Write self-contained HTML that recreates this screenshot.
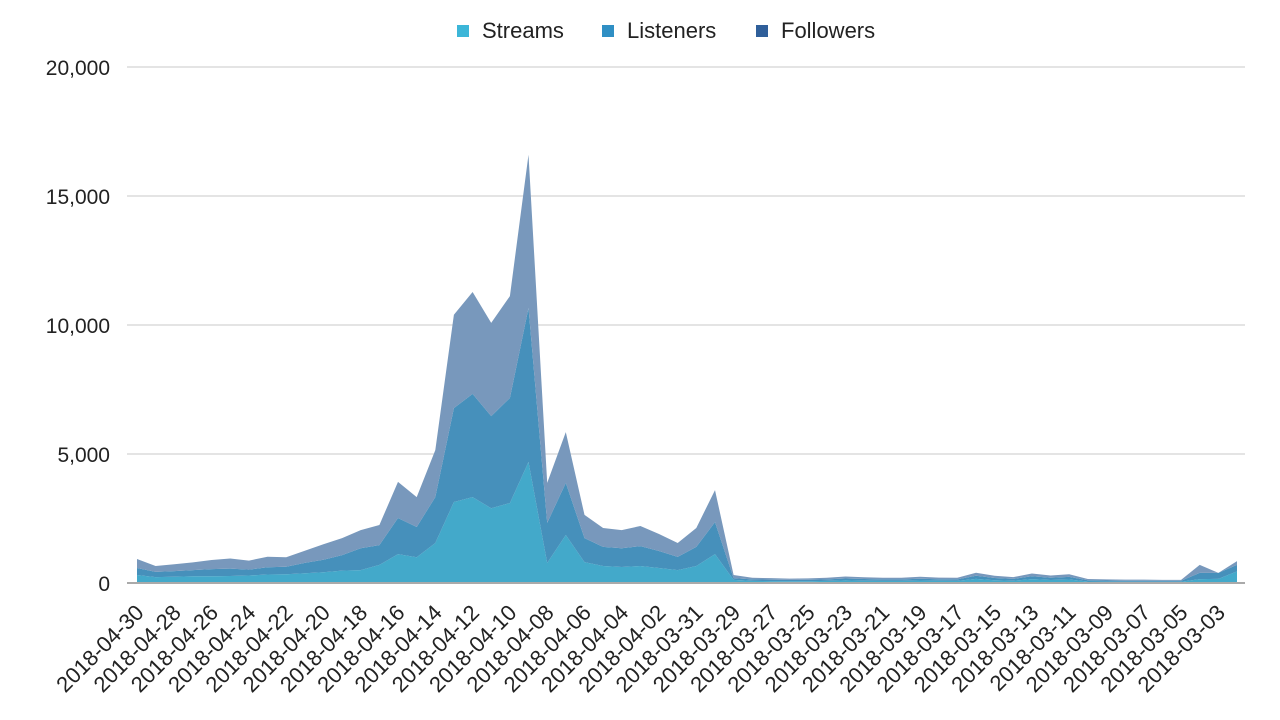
<!DOCTYPE html>
<html><head><meta charset="utf-8">
<style>
html,body{margin:0;padding:0;background:#fff;}
svg{display:block;font-family:"Liberation Sans",sans-serif;}
</style></head>
<body>
<svg id="chart" width="1280" height="720" viewBox="0 0 1280 720" xmlns="http://www.w3.org/2000/svg">
  <g id="legend">
    <g>
      <rect x="457" y="25" width="12" height="12" fill="#3cb6d8"/>
      <text x="482" y="38" font-size="22" fill="#222">Streams</text>
    </g>
    <g>
      <rect x="602" y="25" width="12" height="12" fill="#2f8fc4"/>
      <text x="627" y="38" font-size="22" fill="#222">Listeners</text>
    </g>
    <g>
      <rect x="756" y="25" width="12" height="12" fill="#2f5f9a"/>
      <text x="781" y="38" font-size="22" fill="#222">Followers</text>
    </g>
  </g>
  <g id="grid"></g>
  <g id="yaxis"></g>
  <g id="areas"></g>
  <line x1="127" x2="1245" y1="583" y2="583" stroke="#aaa" stroke-width="2"/>
  <g id="xaxis"></g>
</svg>
<script>
const streams = [310,230,240,260,260,270,290,330,340,380,420,480,500,700,1120,1000,1550,3140,3330,2900,3100,4690,780,1860,810,660,620,660,580,500,660,1120,120,
  80,75,70,70,80,100,90,80,80,95,85,80,160,110,90,150,115,135,60,55,50,50,50,50,150,160,450];
const listeners = [270,200,220,240,280,290,230,280,290,400,480,600,850,770,1400,1170,1780,3640,4000,3570,4070,5970,1550,2020,930,740,730,770,660,510,740,1240,70,
  60,55,50,55,60,75,65,60,60,70,60,60,120,85,70,110,85,100,45,40,40,40,35,35,240,230,250];
const followers = [350,230,270,300,350,390,350,410,370,470,600,660,700,780,1400,1160,1820,3620,3950,3610,3950,5940,1550,1970,900,730,700,780,660,540,730,1240,120,
  60,60,50,55,60,75,65,60,60,75,65,60,120,85,70,110,90,105,50,45,40,40,35,35,310,0,150];
const yTicks = [0,5000,10000,15000,20000];
const yTickLabels = ["0","5,000","10,000","15,000","20,000"];
const startDate = "2018-04-30";

const NS = "http://www.w3.org/2000/svg";
const x0 = 137, x1 = 1237, yBase = 583, yTop = 67, yMax = 20000;
const n = streams.length;
const xs = i => x0 + i * (x1 - x0) / (n - 1);
const ys = v => yBase - v / yMax * (yBase - yTop);

function dateLabel(i){
  const d = new Date(startDate + "T00:00:00Z");
  d.setUTCDate(d.getUTCDate() - i);
  return d.toISOString().slice(0,10);
}

const grid = document.getElementById('grid');
const yaxis = document.getElementById('yaxis');
yTicks.forEach((t, k) => {
  const y = ys(t);
  if (t > 0) {
    const l = document.createElementNS(NS,'line');
    l.setAttribute('x1',127); l.setAttribute('x2',1245);
    l.setAttribute('y1',y); l.setAttribute('y2',y);
    l.setAttribute('stroke','#dcdcdc'); l.setAttribute('stroke-width','1.5');
    
    
    grid.appendChild(l);
  }
  const tx = document.createElementNS(NS,'text');
  tx.setAttribute('x',110); tx.setAttribute('y',y+8);
  tx.setAttribute('text-anchor','end'); tx.setAttribute('font-size','21'); tx.setAttribute('fill','#222');
  tx.textContent = yTickLabels[k];
  
  
  yaxis.appendChild(tx);
});

const areas = document.getElementById('areas');
const series = [streams, listeners, followers];
const colors = ["#43a9ca","#4690bb","#7898bc"];
const names = ["area-streams","area-listeners","area-followers"];
let prev = new Array(n).fill(0);
series.forEach((s, k) => {
  const top = s.map((v,i) => prev[i] + v);
  let d = "";
  for (let i=0;i<n;i++) d += (i? "L":"M") + xs(i).toFixed(1) + "," + ys(top[i]).toFixed(1);
  for (let i=n-1;i>=0;i--) d += "L" + xs(i).toFixed(1) + "," + ys(prev[i]).toFixed(1);
  d += "Z";
  const p = document.createElementNS(NS,'path');
  p.setAttribute('d', d);
  p.setAttribute('fill', colors[k]);
  
  
  areas.appendChild(p);
  prev = top;
});

const xaxis = document.getElementById('xaxis');
for (let i=0;i<n;i+=2){
  const x = xs(i);
  const tx = document.createElementNS(NS,'text');
  tx.setAttribute('transform', `translate(${x+8},${614}) rotate(-45)`);
  tx.setAttribute('text-anchor','end'); tx.setAttribute('font-size','22'); tx.setAttribute('fill','#222');
  tx.textContent = dateLabel(i);
  
  
  xaxis.appendChild(tx);
}
</script>
</body></html>
